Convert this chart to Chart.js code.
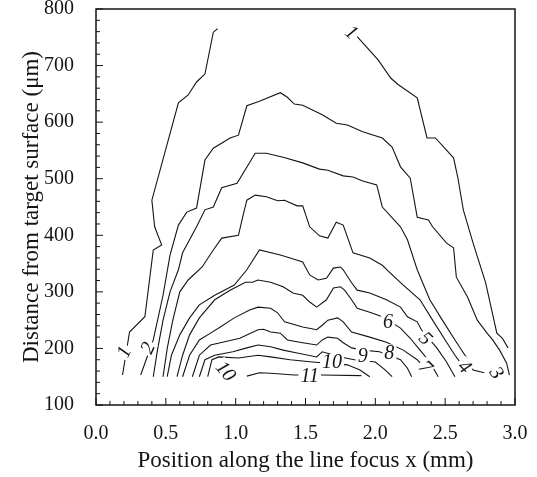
<!DOCTYPE html>
<html>
<head>
<meta charset="utf-8">
<script src="https://cdn.jsdelivr.net/npm/chart.js@4.4.1/dist/chart.umd.min.js"></script>
<style>
  html, body { margin: 0; background: #fff; }
  #wrap { width: 537px; height: 477px; }
</style>
</head>
<body>
<div id="wrap"><canvas id="contour-chart"></canvas></div>
<script>
// contour paths: [x (mm), distance (um)]
const level1Left = [[0.19,153],[0.24,229],[0.35,256],[0.41,374],[0.47,383],[0.42,415],[0.40,462],
  [0.59,634],[0.66,648],[0.72,671],[0.78,685],[0.84,759],[0.87,765]];
const level1Right = [[1.87,751],[2.02,710],[2.11,678],[2.16,667],[2.30,643],[2.37,572],[2.43,572],
  [2.56,537],[2.59,503],[2.63,445],[2.70,386],[2.79,316],[2.87,227],[2.91,218],[2.95,201]];
const level2 = [[0.32,153],[0.41,215],[0.48,294],[0.53,365],[0.59,418],[0.65,441],[0.72,448],
  [0.78,533],[0.84,554],[0.96,572],[1.02,577],[1.08,629],[1.17,637],[1.32,652],[1.37,644],
  [1.42,632],[1.48,630],[1.62,613],[1.72,598],[1.80,595],[1.91,583],[2.05,572],[2.12,556],
  [2.18,521],[2.25,501],[2.30,432],[2.38,427],[2.41,415],[2.51,386],[2.56,378],[2.58,326],
  [2.66,291],[2.73,250],[2.80,227],[2.84,215],[2.89,197],[2.94,174],[2.96,153]];
const level3 = [[0.41,150],[0.44,197],[0.48,250],[0.53,300],[0.59,339],[0.62,369],[0.72,415],
  [0.78,445],[0.84,450],[0.90,484],[1.01,492],[1.14,545],[1.22,545],[1.34,538],[1.48,528],
  [1.60,517],[1.66,515],[1.77,505],[1.84,503],[1.91,496],[2.01,489],[2.05,450],[2.18,415],
  [2.23,392],[2.30,339],[2.39,286],[2.48,250],[2.57,215],[2.65,185],[2.70,162],[2.78,157]];
const level4 = [[0.48,150],[0.51,200],[0.55,250],[0.60,300],[0.66,321],[0.76,344],[0.84,374],
  [0.90,395],[1.02,400],[1.05,432],[1.08,462],[1.14,471],[1.22,468],[1.30,461],[1.35,462],
  [1.44,452],[1.48,452],[1.53,415],[1.60,399],[1.66,395],[1.72,423],[1.77,418],[1.84,369],
  [1.96,360],[2.05,347],[2.10,335],[2.20,312],[2.32,286],[2.41,250],[2.50,215],[2.57,188],[2.60,178]];
const level5 = [[0.51,150],[0.54,188],[0.60,224],[0.67,254],[0.74,277],[0.85,294],[0.99,312],
  [1.08,339],[1.17,374],[1.32,365],[1.39,360],[1.48,353],[1.53,330],[1.59,321],[1.65,324],
  [1.70,342],[1.75,344],[1.77,339],[1.83,316],[1.87,303],[1.96,298],[2.08,286],[2.18,273],
  [2.23,256],[2.30,247],[2.33,233],[2.44,201],[2.51,176],[2.57,150]];
const level6 = [[0.58,150],[0.62,188],[0.67,224],[0.74,254],[0.85,286],[0.96,303],[1.07,317],
  [1.12,317],[1.16,321],[1.25,317],[1.34,309],[1.41,298],[1.48,294],[1.53,282],[1.58,273],
  [1.65,286],[1.70,307],[1.75,309],[1.78,303],[1.83,286],[1.87,271],[1.96,264],[2.05,256],
  [2.18,236],[2.25,218],[2.32,197],[2.39,176],[2.45,150]];
const level7 = [[0.62,150],[0.67,188],[0.74,215],[0.82,227],[0.89,238],[0.99,254],[1.10,268],
  [1.16,273],[1.25,271],[1.30,263],[1.35,247],[1.48,238],[1.58,233],[1.62,241],[1.66,250],
  [1.73,254],[1.77,247],[1.83,229],[1.96,220],[2.08,211],[2.20,197],[2.30,180],[2.33,172]];
const level8 = [[0.69,150],[0.74,188],[0.82,206],[0.89,210],[1.03,218],[1.16,233],[1.20,234],
  [1.25,229],[1.32,227],[1.37,215],[1.48,210],[1.58,206],[1.62,215],[1.66,220],[1.73,218],
  [1.77,210],[1.83,201],[1.91,197],[2.03,194],[2.18,180],[2.23,165],[2.26,150]];
const level9 = [[0.74,150],[0.78,180],[0.85,188],[0.98,194],[1.08,201],[1.16,206],[1.25,203],
  [1.34,197],[1.44,192],[1.58,185],[1.62,194],[1.75,185],[1.85,180],[2.00,176],[2.07,162],[2.12,150]];
const level10 = [[0.80,150],[0.83,180],[0.88,185],[1.02,183],[1.16,188],[1.25,185],[1.39,180],
  [1.55,176],[1.80,171],[1.89,162],[1.96,150]];
const level11 = [[1.08,151],[1.17,157],[1.25,156],[1.42,153],[1.61,153],[1.90,152]];

const contourPaths = [level1Left, level1Right, level2, level3, level4, level5, level6,
  level7, level8, level9, level10, level11];

// inline contour labels
const labelText = ['1', '2', '10', '1', '11', '10', '9', '8', '6', '5', '7', '4', '3'];
const labelX    = [0.20, 0.37, 0.93, 1.83, 1.53, 1.69, 1.91, 2.10, 2.09, 2.36, 2.36, 2.64, 2.87];
const labelY    = [194, 201, 160, 759, 151, 176, 187, 193, 248, 218, 167, 168, 157];
const labelTilt = [-65, -65, 50, 40, 0, 0, 0, 0, 0, 45, 45, 45, 55];

const serif = '"Liberation Serif", "DejaVu Serif", serif';
const ink = '#141414';

const axisFrame = {
  id: 'axisFrame',
  afterDraw(chart) {
    const { ctx, chartArea: a, scales: { x, y } } = chart;
    ctx.save();
    ctx.strokeStyle = ink;
    ctx.lineWidth = 1.5;
    ctx.strokeRect(a.left, a.top, a.right - a.left, a.bottom - a.top);
    ctx.lineWidth = 1;
    ctx.beginPath();
    for (let i = 0; i <= 30; i++) {
      const px = x.getPixelForValue(i / 10);
      const len = i % 5 === 0 ? 7 : 4;
      ctx.moveTo(px, a.bottom);
      ctx.lineTo(px, a.bottom - len);
    }
    for (let v = 100; v <= 800; v += 20) {
      const py = y.getPixelForValue(v);
      const len = v % 100 === 0 ? 7 : 4;
      ctx.moveTo(a.left, py);
      ctx.lineTo(a.left + len, py);
    }
    ctx.stroke();
    ctx.restore();
  }
};

const contourLabels = {
  id: 'contourLabels',
  afterDatasetsDraw(chart) {
    const { ctx, scales: { x, y } } = chart;
    ctx.save();
    ctx.font = 'italic 20px ' + serif;
    ctx.textAlign = 'center';
    ctx.textBaseline = 'middle';
    labelText.forEach((t, i) => {
      const px = x.getPixelForValue(labelX[i]);
      const py = y.getPixelForValue(labelY[i]);
      const w = ctx.measureText(t).width;
      ctx.save();
      ctx.translate(px, py);
      ctx.rotate(labelTilt[i] * Math.PI / 180);
      ctx.fillStyle = '#fff';
      ctx.fillRect(-w / 2 - 2, -8, w + 4, 16);
      ctx.fillStyle = ink;
      ctx.fillText(t, 0, 1);
      ctx.restore();
    });
    ctx.restore();
  }
};

new Chart(document.getElementById('contour-chart'), {
  type: 'scatter',
  data: {
    datasets: contourPaths.map(path => ({
      data: path.map(p => ({ x: p[0], y: p[1] })),
      showLine: true,
      borderColor: ink,
      borderWidth: 1.1,
      pointRadius: 0,
      tension: 0
    }))
  },
  options: {
    responsive: true,
    maintainAspectRatio: false,
    devicePixelRatio: 1,
    animation: false,
    layout: { padding: { top: 0, right: 22, left: 0, bottom: 0 } },
    plugins: { legend: { display: false }, tooltip: { enabled: false } },
    scales: {
      x: {
        type: 'linear', min: 0, max: 3,
        grid: { display: false },
        border: { display: false },
        ticks: { stepSize: 0.5, padding: 9, color: ink, maxRotation: 0,
                 font: { family: serif, size: 20 }, callback: v => v.toFixed(1) },
        title: { display: true, text: 'Position along the line focus x (mm)', color: ink,
                 font: { family: serif, size: 23 }, padding: { top: 0, bottom: 2 } },
        afterFit: s => { s.height = 72; s.paddingLeft = 0; s.paddingRight = 0; }
      },
      y: {
        type: 'linear', min: 100, max: 800,
        grid: { display: false },
        border: { display: false },
        ticks: { stepSize: 100, padding: 14, color: ink, font: { family: serif, size: 20 } },
        title: { display: true, text: 'Distance from target surface (μm)', color: ink,
                 font: { family: serif, size: 23 }, padding: { top: 18, bottom: 0 } },
        afterFit: s => { s.width = 96; s.paddingTop = 9; s.paddingBottom = 0; }
      }
    }
  },
  plugins: [axisFrame, contourLabels]
});
</script>
</body>
</html>
